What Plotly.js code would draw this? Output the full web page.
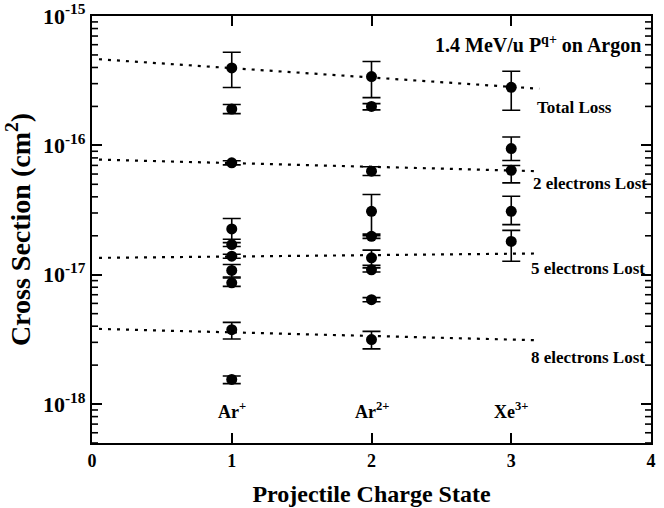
<!DOCTYPE html>
<html>
<head>
<meta charset="utf-8">
<script src="https://cdn.plot.ly/plotly-3.0.1.min.js"></script>
<style>html,body{margin:0;padding:0;background:#fff;}</style>
</head>
<body>
<div id="chart"></div>
<script>
// ---- Data ----
// Projectile charge state positions
const chargeStates = [1, 2, 3];
const chargeLabels = ['Ar<sup>+</sup>', 'Ar<sup>2+</sup>', 'Xe<sup>3+</sup>'];

// Ar+ (q = 1): cross sections (cm^2) and error-bar ends
const arPlusValues = [3.97e-16, 1.91e-16, 7.33e-17, 2.26e-17, 1.71e-17, 1.39e-17, 1.08e-17, 8.65e-18, 3.76e-18, 1.55e-18];
const arPlusUpper  = [5.25e-16, 2.07e-16, 7.60e-17, 2.72e-17, 1.77e-17, 1.44e-17, 1.20e-17, 9.44e-18, 4.28e-18, 1.65e-18];
const arPlusLower  = [2.80e-16, 1.76e-16, 7.07e-17, 1.88e-17, 1.65e-17, 1.34e-17, 9.61e-18, 8.13e-18, 3.18e-18, 1.44e-18];

// Ar2+ (q = 2)
const ar2PlusValues = [3.40e-16, 2.00e-16, 6.31e-17, 3.09e-17, 1.98e-17, 1.35e-17, 1.09e-17, 6.41e-18, 3.15e-18];
const ar2PlusUpper  = [4.45e-16, 2.10e-16, 6.84e-17, 4.17e-17, 2.06e-17, 1.55e-17, 1.13e-17, 6.65e-18, 3.65e-18];
const ar2PlusLower  = [2.34e-16, 1.88e-16, 5.84e-17, 2.00e-17, 1.91e-17, 1.18e-17, 1.05e-17, 6.18e-18, 2.67e-18];

// Xe3+ (q = 3)
const xe3PlusValues = [2.81e-16, 9.44e-17, 6.41e-17, 3.09e-17, 1.81e-17];
const xe3PlusUpper  = [3.74e-16, 1.16e-16, 6.98e-17, 4.04e-17, 2.20e-17];
const xe3PlusLower  = [1.87e-16, 7.64e-17, 5.13e-17, 2.44e-17, 1.27e-17];

// Dotted fit lines (start / end)
const fitX = [0.05, 3.2];
const totalLossFit = [4.63e-16, 2.74e-16];
const twoLostFit   = [7.76e-17, 6.31e-17];
const fiveLostFit  = [1.35e-17, 1.46e-17];
const eightLostFit = [3.81e-18, 3.11e-18];
const fitNames = ['Total Loss', '2 electrons Lost', '5 electrons Lost', '8 electrons Lost'];

// Axis ticks
const xTickVals = [0, 1, 2, 3, 4];
const xTickText = ['0', '1', '2', '3', '4'];
const yTickVals = [1e-18, 1e-17, 1e-16, 1e-15];
const yTickText = ['10<sup>-18</sup>', '10<sup>-17</sup>', '10<sup>-16</sup>', '10<sup>-15</sup>'];
const yMinorMantissas = [2, 3, 4, 5, 6, 7, 8, 9];
const yMinorDecades = [1e-19, 1e-18, 1e-17, 1e-16];
const yMinorVals = [];
yMinorDecades.forEach(function (d) {
  yMinorMantissas.forEach(function (m) {
    const v = m * d;
    if (v >= 5e-19 && v < 1e-15) yMinorVals.push(v);
  });
});

// ---- Geometry ----
const serif = 'Liberation Serif, Times New Roman, serif';
const L = 92, R = 651, T = 16, B = 443;
const xRange = [0, 4];
const pxPerXUnit = (R - L) / (xRange[1] - xRange[0]);
const minorTickLenPx = 5;
const minorOffset = (minorTickLenPx / 2) / pxPerXUnit;
function px(xp) { return (xp - L) / (R - L); }
function py(yp) { return 1 - (yp - T) / (B - T); }

// ---- Build traces ----
function pointTrace(q, vals, up, low) {
  return {
    type: 'scatter', mode: 'markers',
    x: vals.map(function () { return q; }),
    y: vals,
    marker: { color: '#000', size: 11 },
    error_y: {
      type: 'data', symmetric: false,
      array: up.map(function (u, i) { return u - vals[i]; }),
      arrayminus: low.map(function (l, i) { return vals[i] - l; }),
      color: '#000', thickness: 1.6, width: 9
    },
    showlegend: false
  };
}
function fitTrace(name, ys) {
  return {
    type: 'scatter', mode: 'lines', name: name,
    x: fitX, y: ys,
    line: { color: '#000', width: 2.2, dash: '3px,6px' },
    showlegend: false
  };
}
// short inside tick marks at 2..9 of every decade, on the left and right frame edges
function minorTickTrace(xEdge) {
  return {
    type: 'scatter', mode: 'markers',
    x: yMinorVals.map(function () { return xEdge; }),
    y: yMinorVals,
    marker: { symbol: 'line-ew', size: minorTickLenPx, color: '#000', line: { color: '#000', width: 1.6 } },
    showlegend: false, hoverinfo: 'skip', cliponaxis: false
  };
}

const traces = [
  fitTrace(fitNames[0], totalLossFit),
  fitTrace(fitNames[1], twoLostFit),
  fitTrace(fitNames[2], fiveLostFit),
  fitTrace(fitNames[3], eightLostFit),
  pointTrace(chargeStates[0], arPlusValues, arPlusUpper, arPlusLower),
  pointTrace(chargeStates[1], ar2PlusValues, ar2PlusUpper, ar2PlusLower),
  pointTrace(chargeStates[2], xe3PlusValues, xe3PlusUpper, xe3PlusLower),
  minorTickTrace(xRange[0] + minorOffset),
  minorTickTrace(xRange[1] - minorOffset)
];

const annotations = [
  { text: '1.4 MeV/u P<sup>q+</sup> on Argon', xref: 'paper', yref: 'paper', x: px(643), y: py(45), xanchor: 'right', yanchor: 'middle', font: { size: 20 } },
  { text: fitNames[0], xref: 'paper', yref: 'paper', x: px(535), y: py(107), xanchor: 'left', yanchor: 'middle', font: { size: 17 } },
  { text: fitNames[1], xref: 'paper', yref: 'paper', x: px(531), y: py(183), xanchor: 'left', yanchor: 'middle', font: { size: 17 } },
  { text: fitNames[2], xref: 'paper', yref: 'paper', x: px(529), y: py(268), xanchor: 'left', yanchor: 'middle', font: { size: 17 } },
  { text: fitNames[3], xref: 'paper', yref: 'paper', x: px(529), y: py(357), xanchor: 'left', yanchor: 'middle', font: { size: 17 } }
];
chargeStates.forEach(function (q, i) {
  annotations.push({ text: chargeLabels[i], xref: 'x', yref: 'paper', x: q, y: py(410), xanchor: 'center', yanchor: 'middle', font: { size: 18 } });
});
annotations.forEach(function (a) { a.showarrow = false; a.font.family = serif; a.font.color = '#000'; a.font.weight = 'bold'; });

const layout = {
  width: 664, height: 508,
  margin: { l: L, r: 664 - R, t: T, b: 508 - B },
  font: { family: serif, color: '#000', weight: 'bold', size: 18 },
  showlegend: false,
  xaxis: {
    range: xRange, tickmode: 'array', tickvals: xTickVals, ticktext: xTickText,
    ticks: 'inside', ticklen: 10, tickwidth: 1.6, tickcolor: '#000',
    showline: true, linecolor: '#000', linewidth: 2.2, mirror: 'allticks',
    showgrid: false, zeroline: false,
    tickfont: { size: 18, family: serif, weight: 'bold' },
    title: { text: 'Projectile Charge State', font: { size: 24, family: serif, weight: 'bold' }, standoff: 15 }
  },
  yaxis: {
    type: 'log', range: [Math.log10(5e-19), -15],
    tickmode: 'array', tickvals: yTickVals, ticktext: yTickText,
    ticks: 'inside', ticklen: 10, tickwidth: 1.6, tickcolor: '#000',
    showline: true, linecolor: '#000', linewidth: 2.2, mirror: 'allticks',
    showgrid: false, zeroline: false,
    tickfont: { size: 22, family: serif, weight: 'bold' },
    title: { text: 'Cross Section (cm<sup>2</sup>)', font: { size: 28, family: serif, weight: 'bold' }, standoff: 4 }
  },
  annotations: annotations
};

Plotly.newPlot('chart', traces, layout, { displayModeBar: false });
</script>
</body>
</html>
